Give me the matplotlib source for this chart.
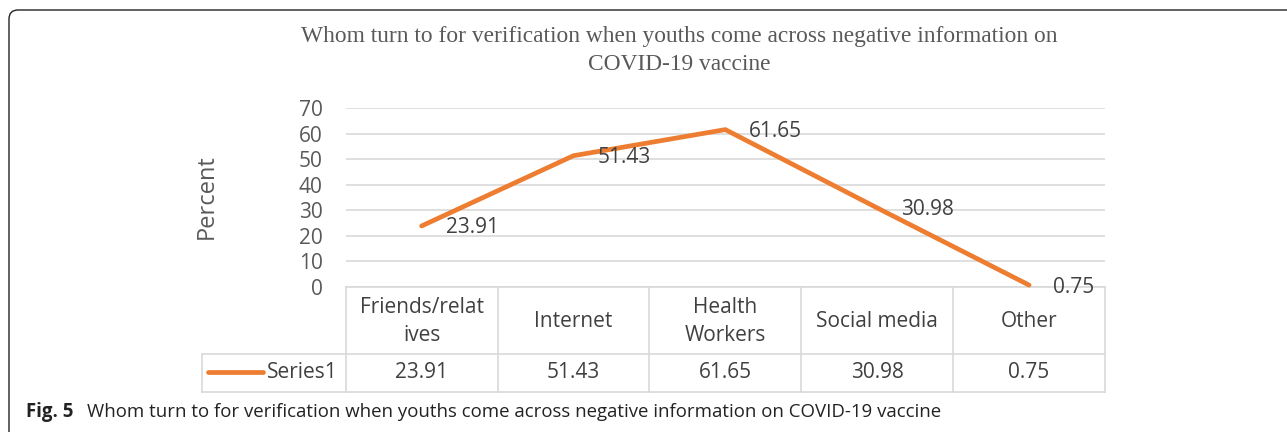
import matplotlib.pyplot as plt
from matplotlib.lines import Line2D
from matplotlib.patches import FancyBboxPatch
from matplotlib.transforms import IdentityTransform

categories = ["Friends/relat\nives", "Internet", "Health\nWorkers", "Social media", "Other"]
values = [23.91, 51.43, 61.65, 30.98, 0.75]
series_name = "Series1"
y_ticks = [0, 10, 20, 30, 40, 50, 60, 70]

title_lines = ["Whom turn to for verification when youths come across negative information on",
               "COVID-19 vaccine"]
caption_bold = "Fig. 5"
caption_text = "Whom turn to for verification when youths come across negative information on COVID-19 vaccine"

W, H = 1287, 432
orange = "#ED7D31"
grid_c = "#d9d9d9"
txt_c = "#404040"
sans = ["Open Sans", "DejaVu Sans"]
fs = 15


def fx(x):
    return x / W


def fy(y):
    return 1 - y / H


fig = plt.figure(figsize=(W / 100, H / 100), dpi=100)

# plot area in pixel terms of the reference
ax_l, ax_r, ax_t, ax_b = 345.7, 1105, 108.3, 287
ax = fig.add_axes([fx(ax_l), fy(ax_b), fx(ax_r - ax_l), (ax_b - ax_t) / H])
ax.patch.set_visible(False)
xs = list(range(len(values)))
ax.plot(xs, values, color=orange, lw=3.4, solid_capstyle="round", solid_joinstyle="miter",
        clip_on=False, zorder=5)
for x, v in zip(xs, values):
    ax.annotate(f"{v:.2f}", (x, v), xytext=(24, -2), textcoords="offset pixels",
                ha="left", va="center", fontsize=fs, color=txt_c, family=sans,
                annotation_clip=False, zorder=6)

ax.set_xlim(-0.5, len(values) - 0.5)
ax.set_ylim(0, 70)
ax.set_yticks(y_ticks)
ax.set_xticks([])
ax.tick_params(axis="y", length=0, pad=16.5, labelsize=fs, labelcolor="#595959")
for lab in ax.get_yticklabels():
    lab.set_family(sans)
ax.grid(axis="y", color=grid_c, lw=1.2)
ax.set_axisbelow(True)
for s in ax.spines.values():
    s.set_visible(False)

fig.text(fx(207), fy(197), "Percent", rotation=90, ha="center", va="center",
         fontsize=17, color="#595959", family=sans)

# title
serif = ["Liberation Serif", "DejaVu Serif"]
fig.text(fx(679), fy(41.7), title_lines[0], ha="center", va="baseline",
         fontsize=16.8, color="#595959", family=serif)
fig.text(fx(679), fy(70), title_lines[1], ha="center", va="baseline",
         fontsize=16.8, color="#595959", family=serif)

# data table under the axis
n = len(categories)
col_w = (ax_r - ax_l) / n
edges = [ax_l + i * col_w for i in range(n + 1)]
row_top, row_mid, row_bot, key_l = 287, 354, 392, 202


def hline(y, x0, x1):
    fig.add_artist(Line2D([fx(x0), fx(x1)], [fy(y), fy(y)], color=grid_c, lw=1.2, zorder=-1))


def vline(x, y0, y1):
    fig.add_artist(Line2D([fx(x), fx(x)], [fy(y0), fy(y1)], color=grid_c, lw=1.2, zorder=-1))


hline(row_top, ax_l, ax_r)
hline(row_mid, key_l, ax_r)
hline(row_bot, key_l, ax_r)
for e in edges:
    vline(e, row_top, row_bot)
vline(key_l, row_mid, row_bot)

for i, (c, v) in enumerate(zip(categories, values)):
    cx = (edges[i] + edges[i + 1]) / 2
    fig.text(fx(cx), fy((row_top + row_mid) / 2 + 1), c, ha="center", va="center",
             fontsize=fs, color=txt_c, family=sans, linespacing=1.4)
    fig.text(fx(cx), fy((row_mid + row_bot) / 2 - 1), f"{v:.2f}", ha="center", va="center",
             fontsize=fs, color=txt_c, family=sans)

fig.add_artist(Line2D([fx(208), fx(263)], [fy(372), fy(372)], color=orange, lw=3.4,
                      solid_capstyle="round"))
fig.text(fx(267), fy(372), series_name, ha="left", va="center", fontsize=fs,
         color=txt_c, family=sans)

# outer frame (pixels), runs off the right and bottom edges
frame = FancyBboxPatch((9, -20), 1340, H - 10 + 20,
                       boxstyle="round,pad=0,rounding_size=9", transform=IdentityTransform(),
                       fill=False, ec="#222222", lw=1.0)
fig.add_artist(frame)

# caption
fig.text(fx(26), fy(417), caption_bold, ha="left", va="baseline", fontsize=13.4,
         fontweight="bold", color="#222222", family=sans)
fig.text(fx(87), fy(417), caption_text, ha="left", va="baseline", fontsize=13.4,
         color="#222222", family=sans)

fig.savefig("out.png", dpi=100)
